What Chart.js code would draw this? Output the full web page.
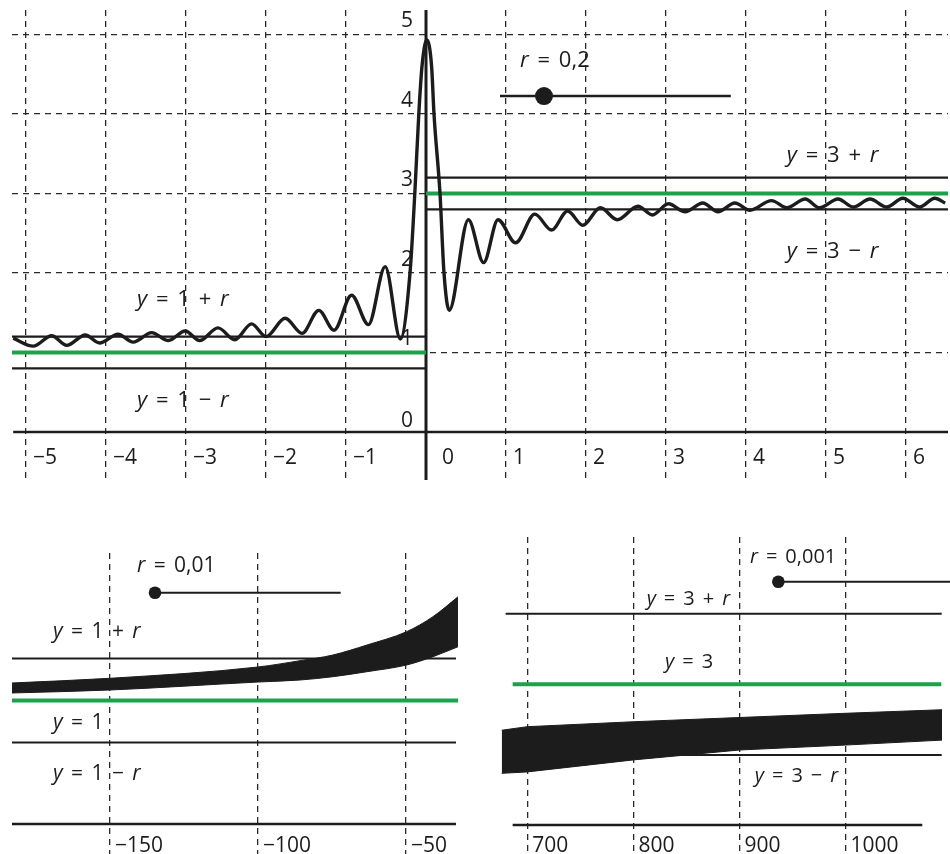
<!DOCTYPE html>
<html><head><meta charset="utf-8">
<script src="https://cdn.jsdelivr.net/npm/chart.js@4.4.0/dist/chart.umd.min.js"></script>
<style>
html,body{margin:0;padding:0;background:#fff;width:950px;height:854px;overflow:hidden}
canvas{position:absolute}
</style></head><body>
<canvas id="top" width="950" height="490" style="left:0;top:0"></canvas>
<canvas id="bl" width="470" height="314" style="left:0;top:540px"></canvas>
<canvas id="br" width="470" height="324" style="left:480px;top:530px"></canvas>
<script>
// ---------- DATA ----------
// top chart
const topXTicks = [-5,-4,-3,-2,-1,0,1,2,3,4,5,6];
const topYTicks = [0,1,2,3,4,5];
const topCurveX = [-5.16,-4.91,-4.68,-4.49,-4.26,-4.08,-3.85,-3.66,-3.43,-3.22,-3.01,-2.83,-2.60,-2.39,-2.18,-2.00,-1.76,-1.55,-1.34,-1.15,-0.93,-0.72,-0.51,-0.32,-0.20,-0.14,-0.09,-0.05,0.01,0.07,0.10,0.175,0.225,0.29,0.53,0.72,0.90,1.12,1.36,1.57,1.77,1.96,2.18,2.39,2.65,2.83,3.03,3.24,3.46,3.65,3.86,4.05,4.32,4.51,4.74,4.92,5.15,5.34,5.55,5.76,5.96,6.17,6.36,6.49];
const topCurveY = [1.18,1.08,1.21,1.09,1.22,1.12,1.23,1.13,1.25,1.15,1.27,1.15,1.31,1.16,1.36,1.20,1.43,1.24,1.53,1.28,1.72,1.35,2.08,1.17,2.0,3.0,4.0,4.6,4.93,4.6,4.0,3.0,2.0,1.53,2.67,2.13,2.67,2.38,2.74,2.54,2.78,2.60,2.82,2.67,2.84,2.73,2.87,2.77,2.88,2.77,2.88,2.79,2.91,2.82,2.93,2.82,2.93,2.83,2.93,2.83,2.94,2.83,2.94,2.88];
const leftLevel = 1;
const rightLevel = 3;
const rTop = 0.2;
const sliderTopValue = 1.475;

// bottom-left chart
const blXTicks = [-150,-100,-50];
const rBL = 0.01;
const blBandX     = [-183.1, -150, -100, -85.8, -74.7, -63.2, -49.8, -40.9, -32.4];
const blBandUpper = [1.00417, 1.00529, 1.00798, 1.00948, 1.01083, 1.01321, 1.01638, 1.01995, 1.02471];
const blBandLower = [1.00179, 1.00250, 1.00440, 1.00488, 1.00567, 1.00686, 1.00845, 1.01043, 1.01281];
const sliderBLValue = -134.8;

// bottom-right chart
const brXTicks = [700,800,900,1000];
const rBR = 0.001;
const brBandX     = [675.9, 700, 800, 900, 1000, 1090.9];
const brBandUpper = [2.99935, 2.99940, 2.99947, 2.99953, 2.99959, 2.99964];
const brBandLower = [2.99874, 2.99876, 2.99893, 2.99907, 2.99914, 2.99921];
const sliderBRValue = 936.6;

// ---------- STYLE / LAYOUT ----------
const INK = '#1c1c1c';
const GREEN = '#1ba24b';
const GRID = '#2a2a2a';
const FONT = '"Open Sans", "DejaVu Sans", sans-serif';

function drawMath(ctx, str, px, py, size, gapEm, align) {
  const parts = str.split(' ');
  const pieces = [];
  let w = 0;
  parts.forEach((p, i) => {
    for (const ch of p) {
      const it = /[a-z]/.test(ch);
      ctx.font = (it ? 'italic ' : '') + size + 'px ' + FONT;
      const cw = ctx.measureText(ch).width;
      pieces.push({ch, font: ctx.font, x: w});
      w += cw;
    }
    if (i < parts.length - 1) w += size * gapEm;
  });
  const x0 = align === 'right' ? px - w : px;
  pieces.forEach(p => { ctx.font = p.font; ctx.fillText(p.ch, x0 + p.x, py); });
}

function seg(x1, x2, y) { return [{x: x1, y}, {x: x2, y}]; }
function lineDS(data, color, width, extra) {
  return Object.assign({type: 'line', data, borderColor: color, borderWidth: width, pointRadius: 0, fill: false, tension: 0}, extra || {});
}
function ticksFrom(arr) { return s => { s.ticks = arr.map(v => ({value: v})); }; }

const baseOpts = (pad) => ({
  responsive: false, animation: false, events: [],
  layout: {padding: pad, autoPadding: false},
  plugins: {legend: {display: false}, tooltip: {enabled: false}},
});

function gridScale(min, max, ticks, showGrid, hideZero) {
  return {
    type: 'linear', min, max,
    afterBuildTicks: ticksFrom(ticks),
    ticks: {display: false},
    border: {display: false, dash: [6, 5]},
    grid: {
      display: showGrid, drawTicks: false, lineWidth: 1.3,
      color: c => (hideZero && c.tick && c.tick.value === 0) ? 'rgba(0,0,0,0)' : GRID
    }
  };
}

// ---------- TOP CHART ----------
const TX = {min: -5.175, max: 6.525};
const TY = {min: -0.604, max: 5.308};
const topCurve = topCurveX.map((x, i) => ({x, y: topCurveY[i]}));

new Chart(document.getElementById('top'), {
  type: 'line',
  data: {datasets: [
    lineDS(topCurve, INK, 3.4, {cubicInterpolationMode: 'monotone'}),
    lineDS([{x: 0.925, y: 4.226}, {x: 3.81, y: 4.226}], INK, 2.4),
    {type: 'scatter', data: [{x: sliderTopValue, y: 4.226}], pointRadius: 9, backgroundColor: INK, borderWidth: 0},
    lineDS(seg(TX.min, 0, leftLevel + rTop), INK, 2.2),
    lineDS(seg(TX.min, 0, leftLevel - rTop), INK, 2.2),
    lineDS(seg(TX.min, 0, leftLevel), GREEN, 4.2),
    lineDS(seg(0, TX.max, rightLevel + rTop), INK, 2.2),
    lineDS(seg(0, TX.max, rightLevel - rTop), INK, 2.2),
    lineDS(seg(0, TX.max + 0.1, rightLevel), GREEN, 4.2),
    lineDS(seg(-5.16, TX.max, 0), INK, 2.6),
    lineDS([{x: 0, y: TY.max}, {x: 0, y: TY.min}], INK, 3),
  ]},
  options: Object.assign(baseOpts({left: 12, right: 2, top: 10, bottom: 10}), {
    scales: {
      x: gridScale(TX.min, TX.max, topXTicks, true, true),
      y: gridScale(TY.min, TY.max, topYTicks, true, true)
    }
  }),
  plugins: [{
    id: 'topLabels',
    afterDatasetsDraw(chart) {
      const {ctx, scales: {x, y}} = chart;
      ctx.save();
      ctx.fillStyle = INK;
      ctx.textBaseline = 'alphabetic';
      const y0 = y.getPixelForValue(0), x0 = x.getPixelForValue(0);
      topXTicks.forEach(v => {
        const t = v < 0 ? '\u2212' + Math.abs(v) : String(v);
        drawMath(ctx, t, x.getPixelForValue(v) + (v === 0 ? 16 : 7), y0 + 32, 21, 0);
      });
      topYTicks.forEach(v => {
        drawMath(ctx, String(v), x0 - 13, y.getPixelForValue(v) - (v === 0 ? 5 : 7), 21, 0, 'right');
      });
      const notes = [
        ['y = 1 + r', -3.6125, 1.585],
        ['y = 1 \u2212 r', -3.6125, 0.318],
        ['y = 3 + r', 4.51, 3.40],
        ['y = 3 \u2212 r', 4.51, 2.185],
        ['r = 0,2', 1.175, 4.595],
      ];
      notes.forEach(n => drawMath(ctx, n[0], x.getPixelForValue(n[1]), y.getPixelForValue(n[2]), 22, 0.4));
      ctx.restore();
    }
  }]
});

// ---------- BOTTOM-LEFT CHART ----------
const BX = {min: -183.11, max: -32.43};
const BY = {min: 0.963452, max: 1.03512};
const blAxis = 0.970595;
new Chart(document.getElementById('bl'), {
  type: 'line',
  data: {datasets: [
    lineDS(blBandX.map((x, i) => ({x, y: blBandUpper[i]})), INK, 1, {fill: '+1', backgroundColor: INK, cubicInterpolationMode: 'monotone'}),
    lineDS(blBandX.map((x, i) => ({x, y: blBandLower[i]})), INK, 1, {cubicInterpolationMode: 'monotone'}),
    lineDS([{x: sliderBLValue, y: 1.02567}, {x: -72.06, y: 1.02567}], INK, 2),
    {type: 'scatter', data: [{x: sliderBLValue, y: 1.02567}], pointRadius: 6.3, backgroundColor: INK, borderWidth: 0},
    lineDS(seg(BX.min, -33.1, leftLevel + rBL), INK, 2),
    lineDS(seg(BX.min, -33.1, leftLevel - rBL), INK, 2),
    lineDS(seg(BX.min, BX.max, leftLevel), GREEN, 4),
    lineDS(seg(BX.min, -33.1, blAxis), INK, 2.5),
  ]},
  options: Object.assign(baseOpts({left: 12, right: 12, top: 13, bottom: 0}), {
    scales: {
      x: gridScale(BX.min, BX.max, blXTicks, true, false),
      y: gridScale(BY.min, BY.max, [], false, false)
    }
  }),
  plugins: [{
    id: 'blLabels',
    afterDatasetsDraw(chart) {
      const {ctx, scales: {x, y}} = chart;
      ctx.save();
      ctx.fillStyle = INK;
      const ya = y.getPixelForValue(blAxis);
      blXTicks.forEach(v => drawMath(ctx, '\u2212' + Math.abs(v), x.getPixelForValue(v) + 5, ya + 28, 21, 0));
      const notes = [
        ['r = 0,01', -140.9, 1.03067],
        ['y = 1 + r', -169.26, 1.01481],
        ['y = 1', -169.26, 0.99314],
        ['y = 1 \u2212 r', -169.26, 0.98107],
      ];
      notes.forEach(n => drawMath(ctx, n[0], x.getPixelForValue(n[1]), y.getPixelForValue(n[2]), 21, 0.4));
      ctx.restore();
    }
  }]
});

// ---------- BOTTOM-RIGHT CHART ----------
const CX = {min: 674.27, max: 1098.4};
const CY = {min: 2.997598, max: 3.002085};
const brAxis = 2.998009;
new Chart(document.getElementById('br'), {
  type: 'line',
  data: {datasets: [
    lineDS(brBandX.map((x, i) => ({x, y: brBandUpper[i]})), INK, 1, {fill: '+1', backgroundColor: INK}),
    lineDS(brBandX.map((x, i) => ({x, y: brBandLower[i]})), INK, 1),
    lineDS([{x: sliderBRValue, y: 3.001452}, {x: CX.max, y: 3.001452}], INK, 2),
    {type: 'scatter', data: [{x: sliderBRValue, y: 3.001452}], pointRadius: 6.3, backgroundColor: INK, borderWidth: 0},
    lineDS(seg(679.6, 1090.6, rightLevel + rBR), INK, 2),
    lineDS(seg(679.6, 1090.6, rightLevel - rBR), INK, 2),
    lineDS(seg(686.2, 1090.2, rightLevel), GREEN, 4),
    lineDS(seg(686.2, 1072.3, brAxis), INK, 2.5),
  ]},
  options: Object.assign(baseOpts({left: 20, right: 0, top: 7, bottom: 0}), {
    scales: {
      x: gridScale(CX.min, CX.max, brXTicks, true, false),
      y: gridScale(CY.min, CY.max, [], false, false)
    }
  }),
  plugins: [{
    id: 'brLabels',
    afterDatasetsDraw(chart) {
      const {ctx, scales: {x, y}} = chart;
      ctx.save();
      ctx.fillStyle = INK;
      const ya = y.getPixelForValue(brAxis);
      brXTicks.forEach(v => drawMath(ctx, String(v), x.getPixelForValue(v) + 5, ya + 27, 21, 0));
      const notes = [
        ['r = 0,001', 909.9, 3.001721],
        ['y = 3 + r', 812.5, 3.001122],
        ['y = 3', 829.8, 3.000226],
        ['y = 3 \u2212 r', 914.4, 2.998621],
      ];
      notes.forEach(n => drawMath(ctx, n[0], x.getPixelForValue(n[1]), y.getPixelForValue(n[2]), 20, 0.4));
      ctx.restore();
    }
  }]
});
</script>
</body></html>
